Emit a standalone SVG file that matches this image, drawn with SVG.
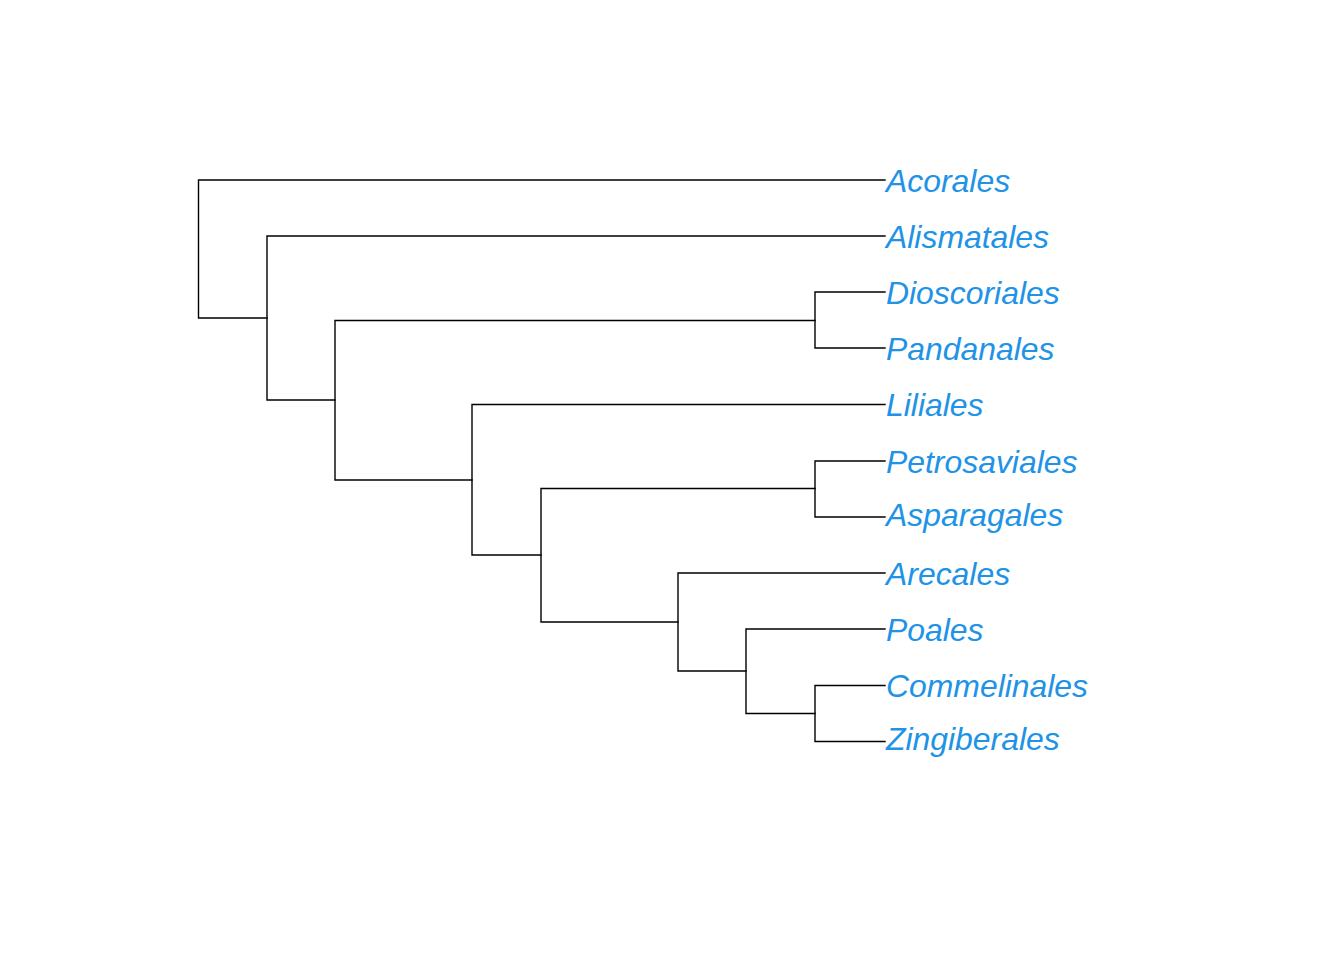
<svg xmlns="http://www.w3.org/2000/svg" width="1344" height="960" viewBox="0 0 1344 960">
<style>
.e{fill:none;stroke:#000;stroke-width:1.4;stroke-linecap:square}
.t{font-family:"Liberation Sans",Arial,sans-serif;font-style:italic;font-size:31.9px;fill:#2093E6}
</style>
<rect width="1344" height="960" fill="#fff"/>
<g id="connectors">
<path class="e" d="M885 180H198.5V318H267"/>
<path class="e" d="M885 236H267V400H335"/>
<path class="e" d="M815 320.5H335V480H472"/>
<path class="e" d="M885 292H815V348H885"/>
<path class="e" d="M885 404.5H472V555H541"/>
<path class="e" d="M815 488.5H541V622H678"/>
<path class="e" d="M885 461H815V517H885"/>
<path class="e" d="M885 573H678V671H746"/>
<path class="e" d="M885 629H746V713.5H815"/>
<path class="e" d="M885 685.5H815V741.5H885"/>
</g>
<g id="n-acorales"><text class="t" x="886" y="191.5">Acorales</text></g>
<g id="n-alismatales"><text class="t" x="886" y="247.5">Alismatales</text></g>
<g id="n-dioscoriales"><text class="t" x="886" y="303.5">Dioscoriales</text></g>
<g id="n-pandanales"><text class="t" x="886" y="359.5">Pandanales</text></g>
<g id="n-liliales"><text class="t" x="886" y="416">Liliales</text></g>
<g id="n-petrosaviales"><text class="t" x="886" y="472.5">Petrosaviales</text></g>
<g id="n-asparagales"><text class="t" x="886" y="525.5">Asparagales</text></g>
<g id="n-arecales"><text class="t" x="886" y="584.5">Arecales</text></g>
<g id="n-poales"><text class="t" x="886" y="640.5">Poales</text></g>
<g id="n-commelinales"><text class="t" x="886" y="697">Commelinales</text></g>
<g id="n-zingiberales"><text class="t" x="886" y="750">Zingiberales</text></g>
</svg>
